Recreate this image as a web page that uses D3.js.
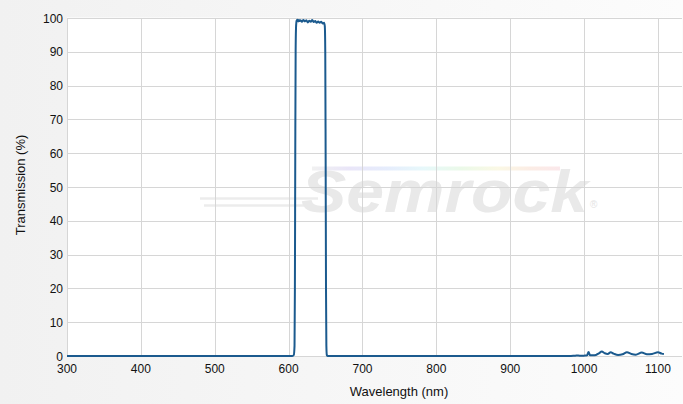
<!DOCTYPE html>
<html>
<head>
<meta charset="utf-8">
<script src="https://cdn.jsdelivr.net/npm/d3@7"></script>
<style>
  html, body { margin: 0; padding: 0; }
  body { width: 683px; height: 404px; overflow: hidden; }
  svg { display: block; font-family: "Liberation Sans", Arial, sans-serif; }
</style>
</head>
<body>
<svg id="chart" width="683" height="404"></svg>
<script>
// ---- data ----
const xTicks = [300, 400, 500, 600, 700, 800, 900, 1000, 1100];
const yTicks = [0, 10, 20, 30, 40, 50, 60, 70, 80, 90, 100];
const xLabel = "Wavelength (nm)";
const yLabel = "Transmission (%)";
const wavelength = [
  300, 400, 500, 600, 605, 607, 608, 608.5, 609, 609.5, 610, 610.5, 611,
  612, 613, 614, 615, 616, 618, 620, 622, 624, 626, 628, 630, 632, 634, 636, 638, 640, 642, 644, 646, 648,
  649, 649.6, 650.1, 650.6, 651.1, 651.7, 653, 660, 700, 800, 900, 980,
  988, 992, 996, 1000, 1004, 1006, 1008, 1012, 1016, 1020, 1024, 1028, 1032, 1036, 1040, 1046,
  1052, 1058, 1064, 1070, 1078, 1085, 1092, 1100, 1105, 1108
];
const transmission = [
  0, 0, 0, 0, 0, 0.3, 3, 20, 60, 90, 97, 98.8, 99.3,
  99.5, 99.0, 99.4, 99.1, 99.3, 98.9, 99.4, 99.0, 99.3, 98.7, 99.2, 98.9, 99.4, 98.8, 99.1, 98.6, 99.0, 98.6, 98.9, 98.4, 98.6,
  97.5, 90, 60, 20, 3, 0.3, 0, 0, 0, 0, 0, 0,
  0.1, 0.15, 0.05, 0.1, 0.2, 1.2, 0.2, 0.2, 0.3, 0.8, 1.3, 0.8, 0.6, 1.1, 0.7, 0.3,
  0.5, 1.1, 0.6, 0.4, 1.0, 0.5, 0.6, 1.1, 0.7, 0.6
];

// ---- layout ----
const W = 683, H = 404;
const padL = 67, padR = 682, padT = 17.5, padB = 356;
const svg = d3.select("#chart");

const defs = svg.append("defs");
const bg = defs.append("linearGradient").attr("id", "bg").attr("x1", "0").attr("x2", "1").attr("y1", "0").attr("y2", "0");
bg.append("stop").attr("offset", "0").attr("stop-color", "#f1f1f1");
bg.append("stop").attr("offset", "1").attr("stop-color", "#fcfcfc");
const rb = defs.append("linearGradient").attr("id", "rainbow").attr("x1", "0").attr("x2", "1").attr("y1", "0").attr("y2", "0");
[["0", "#ececec"], ["0.15", "#e2ddf6"], ["0.3", "#dde6fb"], ["0.45", "#dff6f9"], ["0.6", "#e4f7e1"], ["0.75", "#f9f6dc"], ["0.88", "#fae6dc"], ["1", "#f9e0e4"]]
  .forEach(([o, c]) => rb.append("stop").attr("offset", o).attr("stop-color", c));

svg.append("rect").attr("width", W).attr("height", H).attr("fill", "url(#bg)");
svg.append("rect").attr("x", padL).attr("y", padT).attr("width", padR - padL).attr("height", padB - padT + 1).attr("fill", "#ffffff");

const x = d3.scaleLinear().domain([300, 1132.5]).range([padL, padR]);
const y = d3.scaleLinear().domain([0, 100]).range([padB, 18]);

// ---- watermark ----
const wm = svg.append("g");
wm.append("path").attr("d", "M200,198.5 L318,198.5").attr("stroke", "#ececec").attr("stroke-width", 2.5);
wm.append("path").attr("d", "M204,205.5 L312,205.5").attr("stroke", "#ececec").attr("stroke-width", 2.5);
wm.append("rect").attr("x", 312).attr("y", 166.5).attr("width", 248).attr("height", 4).attr("fill", "url(#rainbow)").attr("opacity", 0.75);
wm.append("text").attr("x", 301).attr("y", 212).attr("font-size", 60).attr("font-weight", "bold").attr("font-style", "italic")
  .attr("fill", "#e9e9e9").attr("textLength", 287).attr("lengthAdjust", "spacingAndGlyphs").text("Semrock");
wm.append("text").attr("x", 590).attr("y", 208).attr("font-size", 10).attr("fill", "#e4e4e4").text("®");

// ---- grid ----
const grid = svg.append("g").attr("stroke", "#d6d6d6").attr("stroke-width", 1).attr("shape-rendering", "crispEdges");
yTicks.forEach(t => {
  const yy = Math.round(y(t)) + 0.5;
  grid.append("line").attr("x1", padL).attr("x2", padR).attr("y1", yy).attr("y2", yy);
});
xTicks.forEach(t => {
  const xx = Math.round(x(t)) + 0.5;
  grid.append("line").attr("x1", xx).attr("x2", xx).attr("y1", padT).attr("y2", padB + 1);
});

// ---- axes labels ----
const lab = svg.append("g").attr("font-size", 12).attr("fill", "#111");
yTicks.forEach(t => {
  lab.append("text").attr("x", 63).attr("y", y(t) + 4.5).attr("text-anchor", "end").text(t);
});
xTicks.forEach(t => {
  lab.append("text").attr("x", x(t)).attr("y", 373).attr("text-anchor", "middle").text(t);
});
svg.append("text").attr("x", 399).attr("y", 396).attr("text-anchor", "middle").attr("font-size", 13).attr("fill", "#111").text(xLabel);
svg.append("text").attr("transform", "translate(25,185) rotate(-90)").attr("text-anchor", "middle").attr("font-size", 13).attr("fill", "#111").text(yLabel);

// ---- series ----
const pts = wavelength.map((w, i) => [w, transmission[i]]);
const line = d3.line().x(d => x(d[0])).y(d => y(d[1])).curve(d3.curveMonotoneX);
svg.append("path").datum(pts).attr("d", line).attr("fill", "none").attr("stroke", "#1b5a8e").attr("stroke-width", 2).attr("stroke-linejoin", "round");
</script>
</body>
</html>
